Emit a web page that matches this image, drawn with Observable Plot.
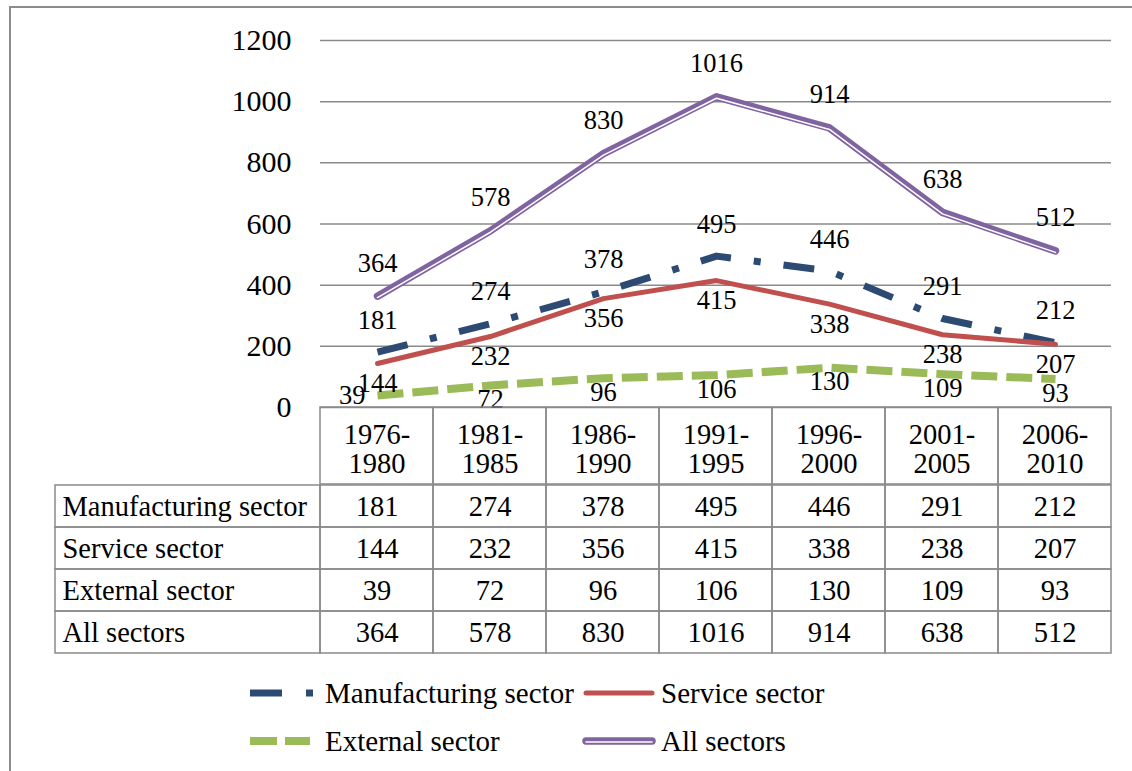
<!DOCTYPE html>
<html><head><meta charset="utf-8">
<script src="https://cdn.jsdelivr.net/npm/d3@7"></script>
<script src="https://cdn.jsdelivr.net/npm/@observablehq/plot@0.6"></script>
<style>
body{margin:0;background:#fff;font-family:"Liberation Serif","Times New Roman",serif;}
#wrap{position:relative;width:1132px;height:771px;overflow:hidden;background:#fff;}
#border{position:absolute;left:9px;top:6px;width:1300px;height:900px;border-left:2px solid #8c8c8c;border-top:2px solid #8c8c8c;}
.abs{position:absolute;left:0;}
.abs svg{overflow:visible;}
.sw{position:absolute;overflow:visible;}
.lt{position:absolute;font-size:29px;line-height:34px;color:#000;white-space:nowrap;}
</style></head><body><div id="wrap"><div id="border"></div></div>
<script>
const periods = ["1976-1980","1981-1985","1986-1990","1991-1995","1996-2000","2001-2005","2006-2010"];
const seriesNames = ["Manufacturing sector","Service sector","External sector","All sectors"];
const manufacturing = [181,274,378,495,446,291,212];
const service = [144,232,356,415,338,238,207];
const external = [39,72,96,106,130,109,93];
const allSectors = [364,578,830,1016,914,638,512];
const yTicks = [0,200,400,600,800,1000,1200];

const valuesBySeries = {
  "Manufacturing sector": manufacturing,
  "Service sector": service,
  "External sector": external,
  "All sectors": allSectors
};
const data = seriesNames.flatMap(s => periods.map((p, i) => ({period: p, series: s, value: valuesBySeries[s][i]})));
const of = s => data.filter(d => d.series === s);

const FONT = '"Liberation Serif","Times New Roman",serif';
const GRAY = "#8a8a8a";
const C = {m:"#2C4A72", s:"#C0504D", e:"#9BBB59", a:"#8064A2"};
const LBL = 26.5;

const wrap = document.getElementById("wrap");
function place(el, top){ const d=document.createElement("div"); d.className="abs"; d.style.top=top+"px"; d.appendChild(el); wrap.appendChild(d); }

// Main chart
const ext = of("External sector");
const main = Plot.plot({
  width:1132, height:420, marginTop:40, marginBottom:13, marginLeft:320, marginRight:21,
  style:{fontFamily:FONT, color:"#000", background:"transparent", overflow:"visible"},
  x:{type:"point", domain:periods, padding:0.5, axis:null},
  y:{domain:[0,1200], axis:null},
  marks:[
    Plot.gridY(yTicks, {stroke:GRAY, strokeOpacity:1, strokeWidth:1.5}),
    Plot.axisY(yTicks, {tickSize:0, tickPadding:29, fontSize:30, tickFormat:d=>String(d), fill:"#000", label:null}),
    Plot.line(of("Manufacturing sector"), {x:"period", y:"value", stroke:C.m, strokeWidth:7, strokeDasharray:"31,23,7,23", strokeLinecap:"butt", strokeLinejoin:"round"}),
    Plot.line(of("Service sector"), {x:"period", y:"value", stroke:C.s, strokeWidth:5, strokeLinecap:"round", strokeLinejoin:"round"}),
    Plot.line(ext, {x:"period", y:"value", stroke:C.e, strokeWidth:8, strokeDasharray:"26,9", strokeLinecap:"butt", strokeLinejoin:"round"}),
    Plot.line(of("All sectors"), {x:"period", y:"value", stroke:C.a, strokeWidth:7.5, strokeLinecap:"round", strokeLinejoin:"round"}),
    Plot.line(of("All sectors"), {x:"period", y:"value", stroke:"#fff", strokeWidth:1.5, dy:1.5, strokeLinecap:"round", strokeLinejoin:"round"}),
    Plot.text(of("Manufacturing sector"), {x:"period", y:"value", text:d=>String(d.value), dy:-32, fontSize:LBL, fill:"#000"}),
    Plot.text(of("Service sector"), {x:"period", y:"value", text:d=>String(d.value), dy:20, fontSize:LBL, fill:"#000"}),
    Plot.text(ext.slice(0,1), {x:"period", y:"value", text:d=>String(d.value), dx:-12, textAnchor:"end", fontSize:LBL, fill:"#000"}),
    Plot.text(ext.slice(1), {x:"period", y:"value", text:d=>String(d.value), dy:14, fontSize:LBL, fill:"#000"}),
    Plot.text(of("All sectors"), {x:"period", y:"value", text:d=>String(d.value), dy:-33, fontSize:LBL, fill:"#000"})
  ]
});
place(main, 0);

// Table header row
const TF = 28.5;
const header = Plot.plot({
  width:1132, height:77, marginTop:0, marginBottom:0, marginLeft:320, marginRight:21,
  style:{fontFamily:FONT, color:"#000", background:"transparent", overflow:"visible"},
  x:{type:"band", domain:periods, padding:0, axis:null},
  marks:[
    Plot.cell(periods, {x:d=>d, fill:"none", stroke:GRAY, strokeWidth:1.5}),
    Plot.text(periods, {x:d=>d, text:d=>d.replace("-", "-\n"), fontSize:TF, lineHeight:1.02, fill:"#000", dy:3})
  ]
});
place(header, 407);

// Table row labels
const labels = Plot.plot({
  width:320, height:170, marginTop:0, marginBottom:0, marginLeft:55, marginRight:0,
  style:{fontFamily:FONT, color:"#000", background:"transparent", overflow:"visible"},
  x:{type:"band", domain:["label"], padding:0, axis:null},
  y:{type:"band", domain:seriesNames, padding:0, axis:null},
  marks:[
    Plot.cell(seriesNames, {x:()=>"label", y:d=>d, fill:"none", stroke:GRAY, strokeWidth:1.5}),
    Plot.text(seriesNames, {y:d=>d, text:d=>d, frameAnchor:"left", dx:7, textAnchor:"start", fontSize:TF, fill:"#000"})
  ]
});
place(labels, 484);

// Table body
const body = Plot.plot({
  width:1132, height:170, marginTop:0, marginBottom:0, marginLeft:320, marginRight:21,
  style:{fontFamily:FONT, color:"#000", background:"transparent", overflow:"visible"},
  x:{type:"band", domain:periods, padding:0, axis:null},
  y:{type:"band", domain:seriesNames, padding:0, axis:null},
  marks:[
    Plot.cell(data, {x:"period", y:"series", fill:"none", stroke:GRAY, strokeWidth:1.5}),
    Plot.text(data, {x:"period", y:"series", text:d=>String(d.value), fontSize:TF, fill:"#000"})
  ]
});
place(body, 484);

// Legend
const legendItems = [
  {name:"Manufacturing sector", sx:250, tx:325, cy:693, w:63, stroke:C.m, sw:7, dash:"32,24,7,24", cap:"butt"},
  {name:"Service sector", sx:583, tx:661, cy:693, w:72, stroke:C.s, sw:5, dash:null, cap:"round"},
  {name:"External sector", sx:250, tx:325, cy:741, w:60, stroke:C.e, sw:8, dash:"27,8", cap:"butt"},
  {name:"All sectors", sx:583, tx:661, cy:741, w:72, stroke:C.a, sw:7.5, dash:null, cap:"round", dbl:true}
];
const ns = "http://www.w3.org/2000/svg";
for (const it of legendItems) {
  const svg = document.createElementNS(ns, "svg");
  svg.setAttribute("class","sw");
  svg.setAttribute("width", it.w); svg.setAttribute("height", 12);
  svg.style.left = it.sx+"px"; svg.style.top = (it.cy-6)+"px";
  const r = it.cap==="round" ? 3 : 0;
  const mk = (stroke, sw, dy) => { const l=document.createElementNS(ns,"line"); l.setAttribute("x1", r); l.setAttribute("x2", it.w-r); l.setAttribute("y1",6+dy); l.setAttribute("y2",6+dy); l.setAttribute("stroke",stroke); l.setAttribute("stroke-width",sw); l.setAttribute("stroke-linecap",it.cap); if(it.dash) l.setAttribute("stroke-dasharray",it.dash); svg.appendChild(l); };
  mk(it.stroke, it.sw, 0);
  if (it.dbl) mk("#fff", 1.5, 1);
  wrap.appendChild(svg);
  const t = document.createElement("div"); t.className="lt"; t.textContent = it.name;
  t.style.left = it.tx+"px"; t.style.top = (it.cy-17)+"px";
  wrap.appendChild(t);
}
</script>
</body></html>
